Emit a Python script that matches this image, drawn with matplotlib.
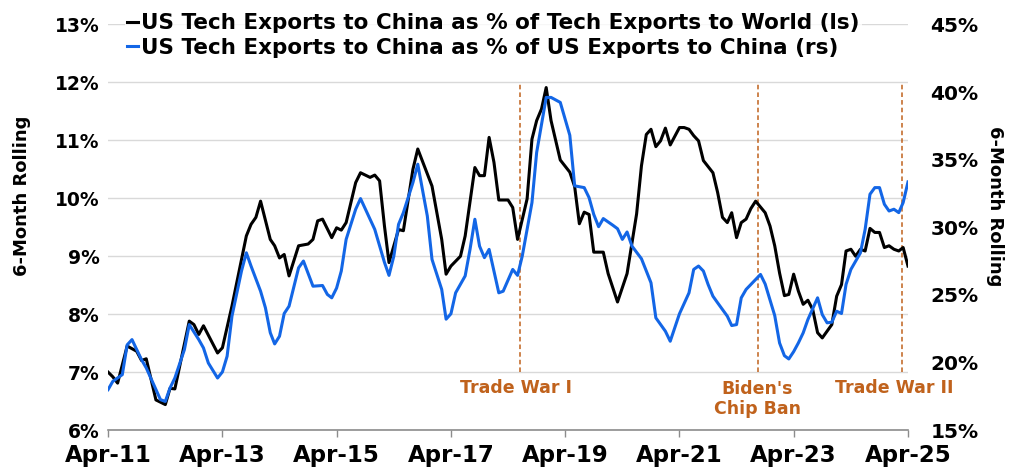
import pandas as pd
import matplotlib.pyplot as plt
import matplotlib.dates as mdates
from matplotlib.ticker import FuncFormatter, MultipleLocator
from matplotlib.lines import Line2D

# US tech exports to China as % of tech exports to world (left scale)
world_dates = [
    "2011-04", "2011-05", "2011-06", "2011-08", "2011-10", "2011-11", "2011-12",
    "2012-02", "2012-04", "2012-05", "2012-06", "2012-09", "2012-10", "2012-11", "2012-12",
    "2013-03", "2013-04", "2013-06", "2013-09", "2013-10", "2013-11", "2013-12",
    "2014-02", "2014-03", "2014-04", "2014-05", "2014-06", "2014-08", "2014-10", "2014-11", "2014-12",
    "2015-01", "2015-03", "2015-04", "2015-05", "2015-06", "2015-08", "2015-09", "2015-11", "2015-12",
    "2016-01", "2016-02", "2016-03", "2016-05", "2016-06", "2016-08", "2016-09", "2016-12",
    "2017-02", "2017-03", "2017-04", "2017-06", "2017-07", "2017-09", "2017-10", "2017-11", "2017-12",
    "2018-01", "2018-02", "2018-04", "2018-05", "2018-06", "2018-08", "2018-09", "2018-10", "2018-11", "2018-12",
    "2019-01", "2019-03", "2019-05", "2019-06", "2019-07", "2019-08", "2019-09", "2019-10", "2019-12",
    "2020-01", "2020-03", "2020-05", "2020-07", "2020-08", "2020-09", "2020-10", "2020-11", "2020-12",
    "2021-01", "2021-02", "2021-04", "2021-05", "2021-06", "2021-07", "2021-08", "2021-09", "2021-11", "2021-12",
    "2022-01", "2022-02", "2022-03", "2022-04", "2022-05", "2022-06", "2022-07", "2022-08", "2022-10", "2022-11", "2022-12",
    "2023-01", "2023-02", "2023-03", "2023-04", "2023-05", "2023-06", "2023-07", "2023-08", "2023-09", "2023-10", "2023-12",
    "2024-01", "2024-02", "2024-03", "2024-04", "2024-05", "2024-06", "2024-07", "2024-08", "2024-09", "2024-10", "2024-11", "2024-12",
    "2025-01", "2025-02", "2025-03", "2025-04",
]
world_share = [
    7.00, 6.92, 6.81, 7.45, 7.36, 7.20, 7.23,
    6.52, 6.44, 6.72, 6.71, 7.88, 7.82, 7.65, 7.80,
    7.33, 7.42, 8.14, 9.35, 9.55, 9.67, 9.95,
    9.29, 9.18, 8.97, 9.03, 8.66, 9.18, 9.21, 9.29, 9.61,
    9.64, 9.32, 9.49, 9.45, 9.58, 10.27, 10.44, 10.36, 10.40,
    10.30, 9.52, 8.89, 9.46, 9.44, 10.50, 10.85, 10.21,
    9.29, 8.69, 8.83, 9.00, 9.35, 10.53, 10.39, 10.39, 11.05,
    10.62, 9.97, 9.97, 9.84, 9.29, 9.99, 11.02, 11.34, 11.54, 11.91,
    11.34, 10.66, 10.45, 10.20, 9.56, 9.76, 9.72, 9.07, 9.07,
    8.70, 8.21, 8.70, 9.73, 10.56, 11.10, 11.19, 10.89, 10.99,
    11.21, 10.92, 11.22, 11.22, 11.19, 11.08, 10.99, 10.65, 10.44, 10.10,
    9.67, 9.58, 9.75, 9.32, 9.58, 9.64, 9.82, 9.95, 9.75, 9.52, 9.18,
    8.71, 8.32, 8.34, 8.69, 8.40, 8.17, 8.24, 8.08, 7.68, 7.59, 7.82,
    8.31, 8.51, 9.09, 9.12, 9.00, 9.12, 9.09, 9.48, 9.41, 9.41, 9.15, 9.18,
    9.12, 9.09, 9.15, 8.83,
]

# US tech exports to China as % of all US exports to China (right scale)
china_dates = [
    "2011-04", "2011-05", "2011-06", "2011-07", "2011-08", "2011-09", "2011-11", "2011-12",
    "2012-02", "2012-03", "2012-04", "2012-05", "2012-06", "2012-08", "2012-09", "2012-11", "2012-12",
    "2013-01", "2013-03", "2013-04", "2013-05", "2013-06", "2013-08", "2013-09", "2013-10", "2013-12",
    "2014-01", "2014-02", "2014-03", "2014-04", "2014-05", "2014-06", "2014-08", "2014-09", "2014-11",
    "2015-01", "2015-02", "2015-03", "2015-04", "2015-05", "2015-06", "2015-08", "2015-09", "2015-11", "2015-12",
    "2016-02", "2016-03", "2016-04", "2016-05", "2016-06", "2016-08", "2016-09", "2016-11", "2016-12",
    "2017-02", "2017-03", "2017-04", "2017-05", "2017-07", "2017-08", "2017-09", "2017-10", "2017-11", "2017-12",
    "2018-02", "2018-03", "2018-05", "2018-06", "2018-07", "2018-09", "2018-10", "2018-12",
    "2019-01", "2019-03", "2019-04", "2019-05", "2019-06", "2019-08", "2019-09", "2019-10", "2019-11", "2019-12",
    "2020-02", "2020-03", "2020-04", "2020-05", "2020-06", "2020-08", "2020-10", "2020-11",
    "2021-01", "2021-02", "2021-04", "2021-06", "2021-07", "2021-08", "2021-09", "2021-10", "2021-11", "2021-12",
    "2022-02", "2022-03", "2022-04", "2022-05", "2022-06", "2022-08", "2022-09", "2022-10", "2022-12",
    "2023-01", "2023-02", "2023-03", "2023-04", "2023-05", "2023-06", "2023-07", "2023-09", "2023-10", "2023-11", "2023-12",
    "2024-01", "2024-02", "2024-03", "2024-04", "2024-06", "2024-07", "2024-08", "2024-09", "2024-10", "2024-11", "2024-12",
    "2025-01", "2025-02", "2025-03", "2025-04",
]
china_share = [
    17.99, 18.60, 18.85, 19.10, 21.30, 21.69, 20.20, 19.60,
    17.99, 17.25, 17.12, 18.11, 18.85, 20.95, 22.80, 21.69, 21.07,
    19.96, 18.85, 19.30, 20.46, 23.42, 26.76, 28.11, 27.13, 25.27,
    24.04, 22.20, 21.37, 21.94, 23.62, 24.16, 27.00, 27.50, 25.64,
    25.69, 25.03, 24.78, 25.50, 26.76, 29.10, 31.33, 32.12, 30.59, 29.84,
    27.40, 26.44, 27.87, 30.21, 31.08, 33.30, 34.66, 30.83, 27.62,
    25.40, 23.20, 23.60, 25.15, 26.40, 28.36, 30.59, 28.60, 27.75, 28.36,
    25.15, 25.27, 26.88, 26.44, 27.87, 31.82, 35.53, 39.60,
    39.60, 39.23, 37.99, 36.80, 33.06, 32.93, 32.19, 30.95, 30.04, 30.64,
    30.14, 29.89, 29.10, 29.65, 28.61, 27.67, 25.89, 23.30,
    22.31, 21.57, 23.60, 25.15, 26.88, 27.13, 26.76, 25.77, 24.90, 24.41,
    23.42, 22.73, 22.80, 24.78, 25.40, 26.14, 26.51, 25.80, 23.47,
    21.44, 20.50, 20.26, 20.80, 21.44, 22.19, 23.17, 24.78, 23.54, 22.93, 22.98,
    23.79, 23.62, 25.77, 26.88, 28.11, 29.84, 32.44, 32.93, 32.93, 31.70, 31.20,
    31.33, 31.08, 31.82, 33.35,
]

event_labels = ["Trade War I", "Biden's\nChip Ban", "Trade War II"]
event_dates = ["2018-06-15", "2022-08-15", "2025-02-20"]
event_text_x = ["2018-05-20", "2022-08-10", "2025-01-01"]
event_text_y = [6.72, 6.53, 6.72]

world_label = "US Tech Exports to China as % of Tech Exports to World (ls)"
china_label = "US Tech Exports to China as % of US Exports to China (rs)"

black = "#000000"
blue = "#1366E6"
orange = "#C0621C"
grid_gray = "#D9D9D9"

plt.rcParams["font.family"] = "DejaVu Sans"
plt.rcParams["font.weight"] = "bold"

fig = plt.figure(figsize=(10.1, 4.69), dpi=100)
ax = fig.add_axes([0.107, 0.083, 0.792, 0.865])
ax2 = ax.twinx()

ax.plot(pd.to_datetime(world_dates), world_share, color=black, lw=2.2, zorder=3)
ax2.plot(pd.to_datetime(china_dates), china_share, color=blue, lw=2.2, zorder=3)

# event markers, dashed from the 7% to the 12% gridline
for lab, d, tx, ty in zip(event_labels, event_dates, event_text_x, event_text_y):
    ax.vlines(pd.Timestamp(d), 7, 12, color=orange, lw=1.1, ls=(0, (3, 2)), zorder=2)
    ax.text(pd.Timestamp(tx), ty, lab, color=orange, fontsize=12.5, fontweight="bold",
            ha="center", va="center", linespacing=1.15)

ax.set_xlim(pd.Timestamp("2011-04-01"), pd.Timestamp("2025-04-01"))
ax.xaxis.set_major_locator(mdates.MonthLocator(bymonth=4, interval=24))
ax.xaxis.set_major_formatter(mdates.DateFormatter("%b-%y"))

ax.set_ylim(6, 13)
ax.yaxis.set_major_locator(MultipleLocator(1))
ax.yaxis.set_major_formatter(FuncFormatter(lambda v, p: f"{v:.0f}%"))
ax2.set_ylim(15, 45)
ax2.yaxis.set_major_locator(MultipleLocator(5))
ax2.yaxis.set_major_formatter(FuncFormatter(lambda v, p: f"{v:.0f}%"))

ax.grid(axis="y", color=grid_gray, lw=1)
ax.set_axisbelow(True)

for a in (ax, ax2):
    for s in ("top", "left", "right"):
        a.spines[s].set_visible(False)
ax2.spines["bottom"].set_visible(False)
ax.spines["bottom"].set_color("#8C8C8C")
ax.spines["bottom"].set_linewidth(1.2)

ax.tick_params(axis="x", length=5, width=1, color="#8C8C8C", labelsize=16.5, pad=5)
ax.tick_params(axis="y", length=0, labelsize=13.5, pad=6)
ax2.tick_params(axis="y", length=0, labelsize=14.5, pad=16)

fig.text(0.022, 0.582, "6-Month Rolling", rotation=90, fontsize=13,
         fontweight="bold", ha="center", va="center")
fig.text(0.985, 0.56, "6-Month Rolling", rotation=270, fontsize=13,
         fontweight="bold", ha="center", va="center")

handles = [Line2D([], [], color=black, lw=2.2), Line2D([], [], color=blue, lw=2.2)]
leg = fig.legend(handles, [world_label, china_label], loc="upper left",
                 bbox_to_anchor=(0.124, 0.976), frameon=True, fontsize=15.5,
                 handlelength=0.5, handletextpad=0.15, borderpad=0.1,
                 labelspacing=0.2, borderaxespad=0)
leg.get_frame().set_facecolor("white")
leg.get_frame().set_edgecolor("none")
for t in leg.get_texts():
    t.set_fontweight("bold")

fig.savefig("out.png", dpi=100)
